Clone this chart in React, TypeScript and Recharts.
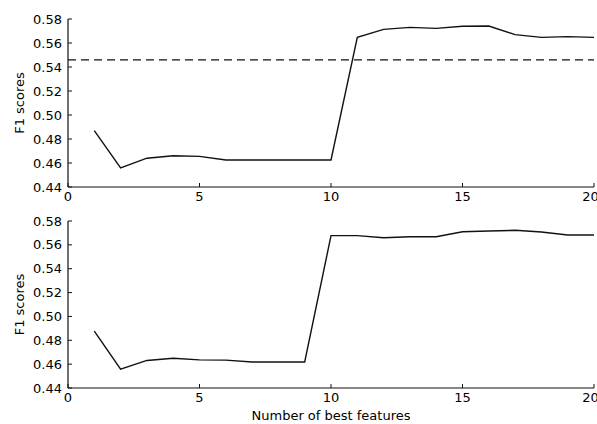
import { LineChart, Line, XAxis, YAxis, ReferenceLine } from 'recharts';

const featureCounts = [1, 2, 3, 4, 5, 6, 7, 8, 9, 10, 11, 12, 13, 14, 15, 16, 17, 18, 19, 20];
const topScores = [0.487, 0.456, 0.464, 0.466, 0.4655, 0.4625, 0.4625, 0.4625, 0.4625, 0.4625, 0.5647, 0.5714, 0.573, 0.5722, 0.5739, 0.5742, 0.567, 0.5647, 0.5653, 0.5647];
const bottomScores = [0.4876, 0.4557, 0.4631, 0.4649, 0.4636, 0.4634, 0.4618, 0.4618, 0.4618, 0.5677, 0.5677, 0.566, 0.5668, 0.5668, 0.571, 0.5716, 0.5722, 0.5708, 0.5683, 0.5683];
const baselineScore = 0.546;
const xTicks = [0, 5, 10, 15, 20];
const yTicks = [0.44, 0.46, 0.48, 0.5, 0.52, 0.54, 0.56, 0.58];

const chartData = featureCounts.map((n, i) => ({ n, top: topScores[i], bottom: bottomScores[i] }));

const FONT = { fill: '#000', fontSize: 13, fontFamily: 'DejaVu Sans' };
const INK = '#111';

// matplotlib-style box: ticks pointing inward on all four sides
const frameAxes = () => [
    <XAxis key="xt" xAxisId="top" orientation="top" type="number" dataKey="n" domain={[0, 20]} ticks={xTicks}
        height={0} tickSize={-4} tickFormatter={() => ''} axisLine={{ stroke: INK, strokeWidth: 1.2 }} tickLine={{ stroke: INK }} />,
    <YAxis key="yr" yAxisId="right" orientation="right" type="number" domain={[0.44, 0.58]} ticks={yTicks}
        width={0} tickSize={-4} tickFormatter={() => ''} axisLine={{ stroke: INK, strokeWidth: 1.2 }} tickLine={{ stroke: INK }} />,
];

const yLabel = { value: 'F1 scores', angle: -90, position: 'insideLeft', offset: 19, style: { textAnchor: 'middle', fontSize: 13, fill: '#000' } };

const App = () => {
    return (
        <div style={{ position: 'absolute', left: 0, top: 0, width: 597, height: 424, background: '#fff', fontFamily: 'DejaVu Sans' }}>
            {/* Top panel */}
            <LineChart width={597} height={210} data={chartData} margin={{ top: 19, right: 3, bottom: 0, left: 0 }}>
                <XAxis type="number" dataKey="n" domain={[0, 20]} ticks={xTicks} height={23} tickSize={-4} tickMargin={9}
                    tick={FONT} axisLine={{ stroke: INK, strokeWidth: 1.2 }} tickLine={{ stroke: INK }} />
                <YAxis type="number" domain={[0.44, 0.58]} ticks={yTicks} width={68} tickSize={-4} tickMargin={10}
                    tick={FONT} tickFormatter={(v: number) => v.toFixed(2)} axisLine={{ stroke: INK, strokeWidth: 1.2 }}
                    tickLine={{ stroke: INK }} label={yLabel} />
                {frameAxes()}
                <ReferenceLine y={baselineScore} stroke={INK} strokeDasharray="8 5" strokeWidth={1.2} />
                <Line type="linear" dataKey="top" stroke={INK} strokeWidth={1.4} dot={false} isAnimationActive={false} />
            </LineChart>

            {/* Bottom panel */}
            <LineChart width={597} height={214} data={chartData} margin={{ top: 11, right: 3, bottom: 0, left: 0 }}>
                <XAxis type="number" dataKey="n" domain={[0, 20]} ticks={xTicks} height={36} tickSize={-4} tickMargin={9}
                    tick={FONT} axisLine={{ stroke: INK, strokeWidth: 1.2 }} tickLine={{ stroke: INK }}
                    label={{ value: 'Number of best features', position: 'insideBottom', offset: 4, style: { fontSize: 13, fill: '#000' } }} />
                <YAxis type="number" domain={[0.44, 0.58]} ticks={yTicks} width={68} tickSize={-4} tickMargin={10}
                    tick={FONT} tickFormatter={(v: number) => v.toFixed(2)} axisLine={{ stroke: INK, strokeWidth: 1.2 }}
                    tickLine={{ stroke: INK }} label={yLabel} />
                {frameAxes()}
                <Line type="linear" dataKey="bottom" stroke={INK} strokeWidth={1.4} dot={false} isAnimationActive={false} />
            </LineChart>
        </div>
    );
};

export default App;
